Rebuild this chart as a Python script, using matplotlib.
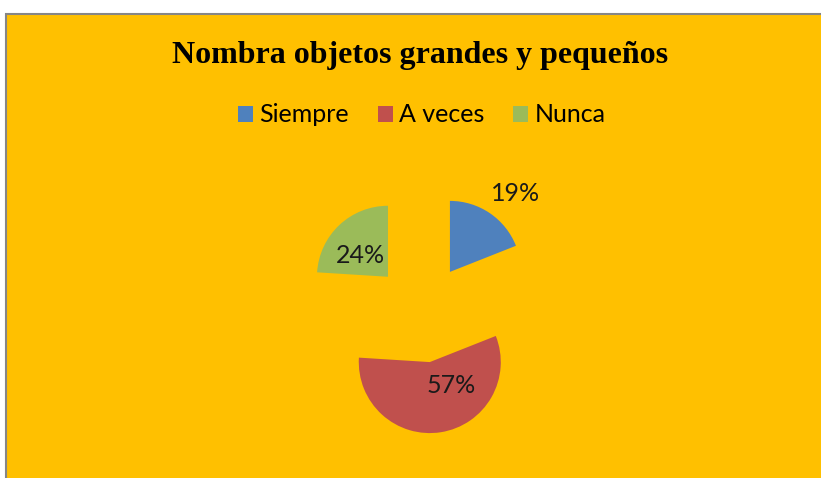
import matplotlib
matplotlib.use('Agg')
import matplotlib.pyplot as plt
from matplotlib.patches import Rectangle

# data
categories = ['Siempre', 'A veces', 'Nunca']
values = [19, 57, 24]
colors = ['#4F81BD', '#C0504D', '#9BBB59']
title = 'Nombra objetos grandes y pequeños'

# where Excel put the percent labels (pie radius units, relative to pie centre)
label_pos = [(1.32, 1.58), (0.41, -1.13), (-0.87, 0.70)]

W, H = 821, 478
fig = plt.figure(figsize=(W / 100, H / 100), dpi=100, facecolor='white')

# chart area with grey border on top/left
bg = Rectangle((6 / W, -0.01), 1.0, 1 - 14 / H + 0.01, transform=fig.transFigure,
               facecolor='#FFC000', edgecolor='#868686', linewidth=1.5, zorder=-1)
fig.patches.append(bg)

fig.text(420 / W, 1 - 63 / H, title, ha='center', va='baseline',
         fontfamily='Liberation Serif', fontweight='bold', fontsize=23)

# pie axes: radius 1 = 71 px, centre at (422, 313) px
R = 71
span = 3
cx, cy = 422, 313
ax = fig.add_axes([(cx - span * R) / W, (H - cy - span * R) / H,
                   2 * span * R / W, 2 * span * R / H])
ax.set_zorder(2)
wedges, _ = ax.pie(values, colors=colors, startangle=90, counterclock=False,
                   explode=[0.7] * len(values), radius=1,
                   wedgeprops=dict(linewidth=0))
ax.set_xlim(-span, span)
ax.set_ylim(-span, span)
ax.set_aspect('equal')
ax.axis('off')

for v, (x, y) in zip(values, label_pos):
    ax.text(x, y, '%d%%' % v, ha='center', va='baseline',
            fontfamily='Lato', fontsize=18, color='#1a1a1a')

fig.legend(wedges, categories, loc='center', bbox_to_anchor=(422 / W, 1 - 115 / H),
           ncol=3, frameon=False, prop=dict(family='Lato', size=18),
           handlelength=0.6, handleheight=0.6, handletextpad=0.25,
           columnspacing=1.15, borderpad=0)

fig.savefig('out.png', dpi=100, facecolor='white')
